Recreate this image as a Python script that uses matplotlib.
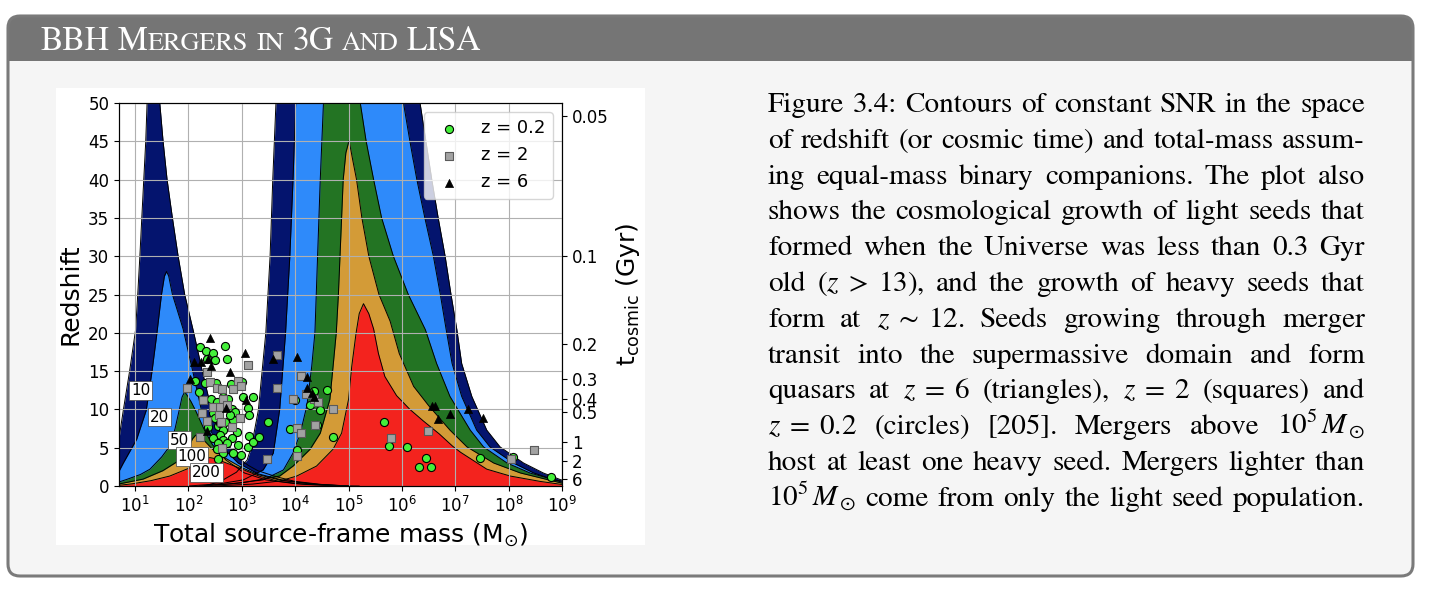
import numpy as np
import matplotlib
matplotlib.use("Agg")
import matplotlib.pyplot as plt
from matplotlib.patches import FancyBboxPatch, Rectangle
from matplotlib.ticker import NullLocator

# ---------------- data (log10 of total mass, redshift) ----------------
snr_levels = ['10', '20', '50', '100', '200']
snr_colors = ['#04146e', '#2e8afa', '#237423', '#d39b37', '#f3231e']

# 3G detector: upper boundary of the region SNR > level
et_10_logm = [0.5, 0.69, 0.78, 0.90, 1.01, 1.05, 1.09, 1.126, 1.163, 1.20, 1.225, 1.24,
              1.445, 1.463, 1.525, 1.60, 1.70, 1.807, 1.93, 2.10, 2.26, 2.43, 2.71, 2.95,
              3.12, 3.3, 3.65, 4.0, 4.5, 5.0]
et_10_z = [3.5, 5.8, 9.9, 15.1, 20.4, 25, 30, 35, 40, 45, 50, 53,
           53, 50, 45, 40, 35, 30, 25, 20, 15, 10, 5.6, 3.6,
           2.7, 2.0, 1.2, 0.6, 0.2, 0]
et_20_logm = [0.5, 0.69, 0.78, 1.03, 1.21, 1.32, 1.41, 1.495, 1.55, 1.59, 1.63, 1.70,
              1.90, 2.08, 2.24, 2.50, 2.93, 3.3, 3.8, 4.5, 5.0]
et_20_z = [1.4, 1.8, 3.0, 6.1, 9.9, 15.1, 20, 25, 27.4, 28, 27.4, 25,
           20.5, 15, 10, 6, 3, 1.6, 0.7, 0.15, 0]
et_50_logm = [0.5, 0.69, 0.84, 1.1, 1.28, 1.5, 1.65, 1.75, 1.83, 1.88, 1.93, 1.98,
              2.05, 2.13, 2.3, 2.45, 2.7, 3.05, 3.45, 4.0, 4.7, 5.2]
et_50_z = [0.4, 0.5, 0.85, 1.5, 2.2, 3.8, 5.2, 7.5, 10, 11.6, 12.3, 11.8,
           11, 9.9, 7.3, 5.4, 3.4, 1.7, 0.8, 0.3, 0.05, 0]
et_100_logm = [0.5, 0.69, 1.15, 1.52, 1.84, 2.0, 2.08, 2.13, 2.17, 2.22, 2.3, 2.45,
               2.7, 3.0, 3.3, 3.7, 4.3, 5.0]
et_100_z = [0.2, 0.25, 0.9, 2.0, 3.4, 5.1, 6.2, 6.6, 6.7, 6.5, 5.9, 4.8,
            3.6, 2.4, 1.5, 0.8, 0.25, 0]
et_200_logm = [0.5, 0.69, 0.96, 1.3, 1.65, 2.09, 2.25, 2.35, 2.41, 2.48, 2.6, 2.9,
               3.34, 3.7, 4.2, 5.0]
et_200_z = [0.05, 0.08, 0.3, 0.7, 1.3, 2.55, 3.3, 3.65, 3.7, 3.6, 3.3, 2.5,
            1.25, 0.6, 0.2, 0]

# LISA: upper boundary of the region SNR > level
lisa_10_logm = [2.3, 2.6, 2.9, 3.1, 3.18, 3.31, 3.45, 3.53, 3.58, 3.64, 3.66,
                6.27, 6.34, 6.45, 6.56, 6.68, 6.81, 6.92, 7.03, 7.12, 7.31, 7.59, 7.84,
                8.28, 8.65, 8.97, 9.1]
lisa_10_z = [0, 0.6, 1.8, 3.4, 5.1, 9.9, 20, 30, 40, 50, 53,
             53, 50, 45, 40, 35, 30, 25, 20.4, 16, 11.7, 7.3, 5.1,
             3.0, 1.7, 0.83, 0.65]
lisa_20_logm = [2.0, 2.6, 3.03, 3.40, 3.59, 3.71, 3.82, 3.90, 3.96, 4.01, 4.02,
                5.97, 6.03, 6.15, 6.28, 6.43, 6.59, 6.72, 6.83, 6.94, 7.12, 7.40, 7.65,
                8.09, 8.47, 8.84, 9.1]
lisa_20_z = [0, 0.3, 0.8, 2.1, 4.3, 10, 20, 30, 40, 50, 53,
             53, 50, 45, 40, 35, 30, 25, 20.4, 16, 11.7, 7.3, 5.1,
             3.0, 1.7, 0.83, 0.5]
lisa_50_logm = [2.2, 2.8, 3.4, 3.78, 3.96, 4.1, 4.22, 4.31, 4.37, 4.42, 4.47, 4.53, 4.55,
                5.17, 5.22, 5.33, 5.47, 5.62, 5.84, 6.12, 6.44, 6.65, 6.90, 7.28, 7.53,
                7.97, 8.40, 9.1]
lisa_50_z = [0, 0.3, 0.8, 2.1, 4.3, 7, 10.5, 15.6, 20, 30, 40, 50, 53,
             53, 50, 45, 40, 35, 30, 25, 20.4, 16, 11.7, 7.3, 5.1,
             3.0, 1.7, 0.3]
lisa_100_logm = [2.3, 3.0, 3.71, 3.96, 4.28, 4.47, 4.65, 4.71, 4.77, 4.81, 4.84, 4.87,
                 4.90, 4.95, 5.01, 5.08, 5.15, 5.25, 5.38, 5.57, 5.78, 5.95, 6.22, 6.5,
                 6.90, 7.22, 7.72, 8.22, 9.1]
lisa_100_z = [0, 0.4, 1.3, 2.6, 4.8, 6.9, 11.3, 15.6, 20, 25, 30, 35,
              40, 43.5, 45.1, 42.5, 40, 35, 30, 25, 21.5, 17.3, 13, 10.5,
              7.3, 5.1, 3.0, 1.7, 0.2]
lisa_200_logm = [2.5, 3.2, 3.71, 4.03, 4.40, 4.71, 4.87, 5.0, 5.06, 5.14, 5.2, 5.28,
                 5.38, 5.47, 5.56, 5.68, 5.9, 6.15, 6.4, 6.7, 6.95, 7.1, 7.59, 8.03,
                 8.59, 9.1]
lisa_200_z = [0, 0.25, 0.65, 1.3, 2.6, 4.8, 6.9, 11.3, 15.6, 19.9, 22.5, 23.8,
              22.5, 20.5, 17.3, 14.3, 11.8, 10.0, 8.5, 6.8, 5.2, 4.4, 2.2, 1.3,
              0.6, 0.1]

et_curves = [(et_10_logm, et_10_z), (et_20_logm, et_20_z), (et_50_logm, et_50_z),
             (et_100_logm, et_100_z), (et_200_logm, et_200_z)]
lisa_curves = [(lisa_10_logm, lisa_10_z), (lisa_20_logm, lisa_20_z), (lisa_50_logm, lisa_50_z),
               (lisa_100_logm, lisa_100_z), (lisa_200_logm, lisa_200_z)]

label_logm = [1.107, 1.46, 1.826, 2.07, 2.34]
label_z = [12.49, 9.0, 6.0, 3.83, 1.74]

# seed-growth points (log10 mass, redshift)
pts_z02 = [(2.214, 18.10), (2.326, 17.67), (2.452, 17.41), (2.339, 16.54), (2.495, 16.45),
           (2.683, 18.32), (2.714, 16.54), (2.120, 13.71), (2.201, 12.32), (2.308, 13.49),
           (2.514, 13.49), (2.414, 11.32), (2.527, 11.01), (2.652, 11.66), (2.745, 11.32),
           (2.795, 13.32), (2.996, 13.62), (3.014, 11.58), (3.202, 11.58), (3.121, 10.23),
           (3.139, 9.27), (2.452, 9.57), (2.495, 8.83), (2.370, 7.75), (2.558, 7.83),
           (2.652, 7.31), (2.589, 8.18), (2.683, 8.40), (2.808, 10.01), (2.871, 9.70),
           (2.839, 8.62), (2.777, 9.27), (2.902, 7.01), (2.589, 6.66), (2.464, 6.22),
           (2.652, 6.01), (2.808, 6.22), (2.933, 5.35), (2.558, 5.57), (2.714, 5.66),
           (2.539, 4.79), (2.639, 4.27), (2.839, 4.27), (2.983, 4.05), (2.558, 3.53),
           (3.121, 5.14), (3.139, 6.57), (3.202, 5.79), (3.321, 6.44), (3.496, 8.40),
           (3.902, 7.44), (4.040, 4.70), (3.996, 11.23), (4.278, 10.58), (4.359, 12.45),
           (4.403, 7.96), (4.465, 9.92), (4.603, 12.53), (4.715, 6.35), (5.666, 8.31),
           (5.760, 5.27), (6.091, 5.05), (6.329, 2.52), (6.454, 3.70), (6.548, 2.44),
           (7.467, 3.61), (8.074, 3.83), (8.799, 1.22)]
pts_z2 = [(2.339, 14.84), (1.976, 12.84), (2.276, 11.23), (2.401, 13.62), (2.527, 12.75),
          (2.620, 12.66), (2.639, 11.36), (2.452, 10.27), (2.589, 10.36), (2.714, 10.58),
          (2.577, 9.27), (2.339, 8.53), (2.245, 9.49), (2.602, 8.40), (2.808, 7.66),
          (2.964, 8.83), (2.827, 12.66), (2.933, 13.71), (2.983, 13.06), (2.214, 6.44),
          (2.620, 4.92), (3.121, 15.80), (3.652, 17.11), (3.665, 12.75), (3.477, 3.53),
          (4.028, 3.92), (3.965, 11.40), (4.103, 14.36), (4.196, 11.97), (4.353, 11.32),
          (4.434, 11.01), (4.715, 10.05), (4.040, 7.62), (4.103, 6.88), (4.365, 7.92),
          (5.791, 6.27), (6.485, 7.18), (8.049, 3.53), (8.468, 4.70)]
pts_z6 = [(2.401, 19.28), (2.101, 16.23), (2.233, 16.23), (2.370, 16.54), (2.414, 15.71),
          (2.026, 13.97), (3.058, 17.41), (2.777, 14.93), (2.695, 10.14), (3.077, 11.23),
          (2.339, 7.22), (3.590, 16.54), (4.028, 16.84), (4.215, 14.19), (4.215, 12.75),
          (4.315, 12.10), (4.353, 11.66), (6.560, 10.44), (6.623, 10.44), (6.673, 8.70),
          (6.892, 9.40), (7.236, 10.01), (7.517, 8.83)]
legend_labels = ['z = 0.2', 'z = 2', 'z = 6']

# cosmic-time ticks (Gyr) on the right axis
t_ticks = [0.05, 0.1, 0.2, 0.3, 0.4, 0.5, 1, 2, 6]
t_tick_labels = ['0.05', '0.1', '0.2', '0.3', '0.4', '0.5', '1', '2', '6']
H0, Om, OL = 67.7, 0.31, 0.69

title_pieces = ['BBH', 'M', 'ERGERS', 'IN', '3G', 'AND', 'LISA']
title_big = [True, True, False, False, True, False, True]
title_gap = [True, False, True, True, True, True, False]

caption_lines = [
    ['Figure', '3.4:', 'Contours', 'of', 'constant', 'SNR', 'in', 'the', 'space'],
    ['of', 'redshift', '(or', 'cosmic', 'time)', 'and', 'total-mass', 'assum-'],
    ['ing', 'equal-mass', 'binary', 'companions.', 'The', 'plot', 'also'],
    ['shows', 'the', 'cosmological', 'growth', 'of', 'light', 'seeds', 'that'],
    ['formed', 'when', 'the', 'Universe', 'was', 'less', 'than', '0.3', 'Gyr'],
    ['old', r'($z\;>\;13$),', 'and', 'the', 'growth', 'of', 'heavy', 'seeds', 'that'],
    ['form', 'at', r'$z\;\sim\;12$.', 'Seeds', 'growing', 'through', 'merger'],
    ['transit', 'into', 'the', 'supermassive', 'domain', 'and', 'form'],
    ['quasars', 'at', r'$z\;=\;6$', '(triangles),', r'$z\;=\;2$', '(squares)', 'and'],
    [r'$z\;=\;0.2$', '(circles)', '[205].', 'Mergers', 'above', r'$10^5\,M_\odot$'],
    ['host', 'at', 'least', 'one', 'heavy', 'seed.', 'Mergers', 'lighter', 'than'],
    [r'$10^5\,M_\odot$', 'come', 'from', 'only', 'the', 'light', 'seed', 'population.'],
]

# ---------------- figure ----------------
W, H = 1433, 590
fig = plt.figure(figsize=(W / 100, H / 100), dpi=100)
fig.patch.set_facecolor('white')

bg = fig.add_axes([0, 0, 1, 1])
bg.set_zorder(-1)
bg.set_xlim(0, W)
bg.set_ylim(H, 0)
bg.axis('off')

box = FancyBboxPatch((8, 16), 1405, 560, boxstyle='round,pad=0,rounding_size=12',
                     fc='#f5f5f5', ec='none')
bg.add_patch(box)
bar = Rectangle((0, 0), W, 61, fc='#757575', ec='none')
bg.add_patch(bar)
bar.set_clip_path(box)
bg.add_patch(FancyBboxPatch((8, 16), 1405, 560, boxstyle='round,pad=0,rounding_size=12',
                            fc='none', ec='#7a7a7a', lw=2.2))
bg.add_patch(Rectangle((56, 88), 589, 457, fc='white', ec='none'))

renderer = fig.canvas.get_renderer()


def wpx(t):
    return t.get_window_extent(renderer=renderer).width


# title in small caps
big0, small_ratio = 24.0, 0.78
tobjs = [bg.text(0, 50, p, fontsize=big0 if b else big0 * small_ratio, family='STIXGeneral',
                 color='white', va='baseline', ha='left') for p, b in zip(title_pieces, title_big)]
space0 = 0.25 * big0 * 100 / 72
tot = sum(wpx(o) for o in tobjs) + space0 * sum(title_gap)
sc = 443.0 / tot
for o, b in zip(tobjs, title_big):
    o.set_fontsize((big0 if b else big0 * small_ratio) * sc)
space = space0 * sc
x = 40
for o, g in zip(tobjs, title_gap):
    o.set_x(x)
    x += wpx(o) + (space if g else 0)

# caption, justified
cap_left, cap_right = 768, 1365
cap_base0, cap_step = 112, 35.8
cap_fs = 21.0
for i, toks in enumerate(caption_lines):
    objs = [bg.text(0, 0, t, fontsize=cap_fs, family='STIXGeneral', math_fontfamily='stix',
                    va='baseline', ha='left', color='black') for t in toks]
    ws = [wpx(o) for o in objs]
    gap = (cap_right - cap_left - sum(ws)) / (len(toks) - 1)
    x = cap_left
    y = cap_base0 + i * cap_step
    for o, w in zip(objs, ws):
        o.set_position((x, y))
        x += w + gap

# ---------------- plot ----------------
ax = fig.add_axes([119 / W, 1 - 486 / H, (562 - 119) / W, (486 - 103) / H])
ax.set_xscale('log')
ax.set_xlim(5, 1e9)
ax.set_ylim(0, 50)

for col, (ex, ez), (lx, lz) in zip(snr_colors, et_curves, lisa_curves):
    ax.fill_between(10 ** np.array(ex), 0, ez, color=col, lw=0, zorder=1)
    ax.fill_between(10 ** np.array(lx), 0, lz, color=col, lw=0, zorder=1)
for (ex, ez), (lx, lz) in zip(et_curves, lisa_curves):
    ax.plot(10 ** np.array(ex), ez, color='black', lw=0.7, zorder=1.5)
    ax.plot(10 ** np.array(lx), lz, color='black', lw=0.7, zorder=1.5)

for txt, lm, lz in zip(snr_levels, label_logm, label_z):
    ax.text(10 ** lm, lz, txt, fontsize=11, ha='center', va='center', zorder=4,
            bbox=dict(boxstyle='square,pad=0.12', fc='white', ec='#444444', lw=0.5))

g = np.array(pts_z02)
s = np.array(pts_z2)
t = np.array(pts_z6)
ax.scatter(10 ** g[:, 0], g[:, 1], s=34, marker='o', fc='#44f03a', ec='black', lw=0.8,
           zorder=3, label=legend_labels[0])
ax.scatter(10 ** s[:, 0], s[:, 1], s=30, marker='s', fc='#a2a2a2', ec='#5a5a5a', lw=0.8,
           zorder=3, label=legend_labels[1])
ax.scatter(10 ** t[:, 0], t[:, 1], s=34, marker='^', fc='black', ec='black', lw=0.5,
           zorder=3, label=legend_labels[2])

ax.set_axisbelow(False)
ax.grid(True, color='#b0b0b0', lw=0.8)
ax.xaxis.set_minor_locator(NullLocator())
ax.set_yticks(range(0, 51, 5))
ax.tick_params(labelsize=12, right=False, top=False)
ax.set_xlabel(r'Total source-frame mass (M$_{\odot}$)', fontsize=18)
ax.set_ylabel('Redshift', fontsize=18)
ax.legend(loc='upper right', fontsize=13)

ax2 = ax.twinx()
ax2.set_ylim(0, 50)
tH = 977.8 / H0
zt = (np.sqrt(OL / Om) / np.sinh(1.5 * np.sqrt(OL) * np.array(t_ticks) / tH)) ** (2 / 3) - 1
ax2.set_yticks(zt)
ax2.set_yticklabels(t_tick_labels)
ax2.tick_params(labelsize=12)
ax2.set_ylabel(r't$_{\rm cosmic}$ (Gyr)', fontsize=18)

fig.savefig('out.png', dpi=100)
